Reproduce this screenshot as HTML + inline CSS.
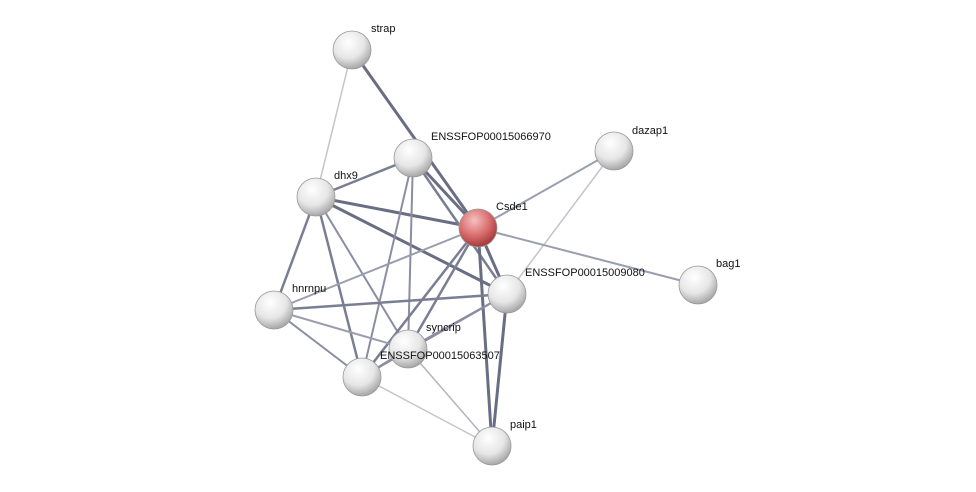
<!DOCTYPE html>
<html><head><style>body{margin:0;background:#fff}svg{display:block}text{font-family:"Liberation Sans",sans-serif;font-size:11px;fill:#111}</style></head><body>
<svg width="976" height="492" viewBox="0 0 976 492">
<defs>
<radialGradient id="g" cx="40%" cy="30%" r="70%"><stop offset="0" stop-color="#ffffff"/><stop offset="0.6" stop-color="#e6e6e6"/><stop offset="1" stop-color="#a8a8a8"/></radialGradient>
<radialGradient id="r" cx="40%" cy="30%" r="70%"><stop offset="0" stop-color="#f6c0c0"/><stop offset="0.6" stop-color="#d86a6a"/><stop offset="1" stop-color="#a43a3a"/></radialGradient>
</defs>
<g stroke-linecap="round">
<line x1="352" y1="50" x2="316" y2="197" stroke="#c4c4cc" stroke-width="1.5"/>
<line x1="352" y1="50" x2="478" y2="228" stroke="#6a6e84" stroke-width="3"/>
<line x1="316" y1="197" x2="413" y2="158" stroke="#7a7e92" stroke-width="2.5"/>
<line x1="316" y1="197" x2="478" y2="228" stroke="#6a6e84" stroke-width="3"/>
<line x1="316" y1="197" x2="507" y2="294" stroke="#6a6e84" stroke-width="3"/>
<line x1="316" y1="197" x2="274" y2="310" stroke="#7a7e92" stroke-width="2.5"/>
<line x1="316" y1="197" x2="362" y2="377" stroke="#7a7e92" stroke-width="2.5"/>
<line x1="316" y1="197" x2="408" y2="349" stroke="#8a8ea0" stroke-width="2"/>
<line x1="413" y1="158" x2="478" y2="228" stroke="#6a6e84" stroke-width="3"/>
<line x1="413" y1="158" x2="507" y2="294" stroke="#7a7e92" stroke-width="2.5"/>
<line x1="413" y1="158" x2="408" y2="349" stroke="#8a8ea0" stroke-width="2"/>
<line x1="413" y1="158" x2="362" y2="377" stroke="#8a8ea0" stroke-width="2"/>
<line x1="614" y1="151" x2="478" y2="228" stroke="#9a9eae" stroke-width="2"/>
<line x1="614" y1="151" x2="507" y2="294" stroke="#c4c4cc" stroke-width="1.5"/>
<line x1="478" y1="228" x2="698" y2="285" stroke="#9a9eae" stroke-width="2"/>
<line x1="478" y1="228" x2="274" y2="310" stroke="#9a9eae" stroke-width="2"/>
<line x1="478" y1="228" x2="507" y2="294" stroke="#6a6e84" stroke-width="3"/>
<line x1="478" y1="228" x2="408" y2="349" stroke="#7a7e92" stroke-width="2.5"/>
<line x1="478" y1="228" x2="362" y2="377" stroke="#7a7e92" stroke-width="2.5"/>
<line x1="478" y1="228" x2="492" y2="446" stroke="#6a6e84" stroke-width="3"/>
<line x1="274" y1="310" x2="507" y2="294" stroke="#7a7e92" stroke-width="2.5"/>
<line x1="274" y1="310" x2="362" y2="377" stroke="#8a8ea0" stroke-width="2"/>
<line x1="274" y1="310" x2="408" y2="349" stroke="#9a9eae" stroke-width="2"/>
<line x1="507" y1="294" x2="492" y2="446" stroke="#6a6e84" stroke-width="3"/>
<line x1="507" y1="294" x2="408" y2="349" stroke="#8a8ea0" stroke-width="2"/>
<line x1="507" y1="294" x2="362" y2="377" stroke="#8a8ea0" stroke-width="2"/>
<line x1="362" y1="377" x2="492" y2="446" stroke="#c4c4cc" stroke-width="1.5"/>
<line x1="408" y1="349" x2="492" y2="446" stroke="#b4b4c0" stroke-width="1.5"/>
<line x1="362" y1="377" x2="408" y2="349" stroke="#8a8ea0" stroke-width="2"/>
</g>
<g stroke="#999" stroke-width="0.8">
<circle cx="352" cy="50" r="19" fill="url(#g)"/>
<circle cx="413" cy="158" r="19" fill="url(#g)"/>
<circle cx="614" cy="151" r="19" fill="url(#g)"/>
<circle cx="316" cy="197" r="19" fill="url(#g)"/>
<circle cx="478" cy="228" r="19" fill="url(#r)"/>
<circle cx="698" cy="285" r="19" fill="url(#g)"/>
<circle cx="507" cy="294" r="19" fill="url(#g)"/>
<circle cx="274" cy="310" r="19" fill="url(#g)"/>
<circle cx="408" cy="349" r="19" fill="url(#g)"/>
<circle cx="362" cy="377" r="19" fill="url(#g)"/>
<circle cx="492" cy="446" r="19" fill="url(#g)"/>
</g>
<text x="371" y="32">strap</text>
<text x="431" y="140">ENSSFOP00015066970</text>
<text x="632" y="134">dazap1</text>
<text x="334" y="179">dhx9</text>
<text x="496" y="210">Csde1</text>
<text x="716" y="267">bag1</text>
<text x="525" y="276">ENSSFOP00015009080</text>
<text x="292" y="292">hnrnpu</text>
<text x="426" y="331">syncrip</text>
<text x="380" y="359">ENSSFOP00015063507</text>
<text x="510" y="428">paip1</text>
</svg>
</body></html>
